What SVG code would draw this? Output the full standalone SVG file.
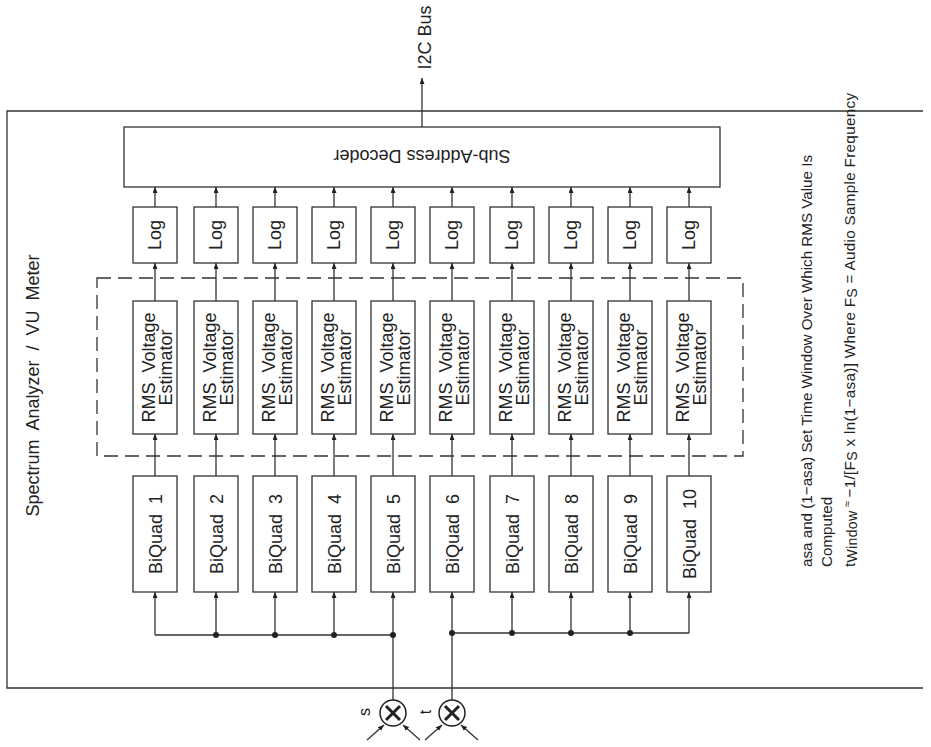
<svg xmlns="http://www.w3.org/2000/svg" width="931" height="747" viewBox="0 0 931 747">
<style>
.ln{fill:none;stroke:#333;stroke-width:1.3}
.bx{fill:#fff;stroke:#333;stroke-width:1.3}
.t{font-family:"Liberation Sans",Arial,sans-serif;fill:#222}
.t18{font-size:18px}
.mid{text-anchor:middle}
.dot{fill:#222}
</style>
<defs>
<marker id="ah" markerUnits="userSpaceOnUse" markerWidth="7" markerHeight="6" refX="6" refY="2.5" orient="auto">
<path d="M0,0 L6,2.5 L0,5 z" fill="#222"/>
</marker>
</defs>
<rect width="931" height="747" fill="#fff"/>
<g id="frame">
<path class="ln" d="M923,111 H7 V688 H923"/>
<g transform="translate(39,385.5) rotate(-90)"><text class="t t18 mid" x="0" y="0" xml:space="preserve">Spectrum  Analyzer  /  VU  Meter</text></g>
</g>
<rect id="rms-group" x="97" y="278" width="646" height="178" fill="none" stroke="#333" stroke-width="1.3" stroke-dasharray="14 7"/>
<g id="decoder">
<rect class="bx" x="124" y="127" width="596" height="60"/>
<g transform="translate(422,150) rotate(180)"><text class="t t18 mid" x="0" y="0">Sub-Address Decoder</text></g>
</g>
<g id="i2c-label" transform="translate(431,37.5) rotate(-90)"><text class="t t18 mid" x="0" y="0">I2C Bus</text></g>
<g id="log1"><rect class="bx" x="133" y="207" width="44" height="56"/><g transform="translate(161,235) rotate(-90)"><text class="t t18 mid">Log</text></g></g>
<g id="log2"><rect class="bx" x="194" y="207" width="44" height="56"/><g transform="translate(222,235) rotate(-90)"><text class="t t18 mid">Log</text></g></g>
<g id="log3"><rect class="bx" x="253" y="207" width="44" height="56"/><g transform="translate(281,235) rotate(-90)"><text class="t t18 mid">Log</text></g></g>
<g id="log4"><rect class="bx" x="312" y="207" width="44" height="56"/><g transform="translate(340,235) rotate(-90)"><text class="t t18 mid">Log</text></g></g>
<g id="log5"><rect class="bx" x="371" y="207" width="44" height="56"/><g transform="translate(399,235) rotate(-90)"><text class="t t18 mid">Log</text></g></g>
<g id="log6"><rect class="bx" x="430" y="207" width="44" height="56"/><g transform="translate(458,235) rotate(-90)"><text class="t t18 mid">Log</text></g></g>
<g id="log7"><rect class="bx" x="490" y="207" width="44" height="56"/><g transform="translate(518,235) rotate(-90)"><text class="t t18 mid">Log</text></g></g>
<g id="log8"><rect class="bx" x="549" y="207" width="44" height="56"/><g transform="translate(577,235) rotate(-90)"><text class="t t18 mid">Log</text></g></g>
<g id="log9"><rect class="bx" x="608" y="207" width="44" height="56"/><g transform="translate(636,235) rotate(-90)"><text class="t t18 mid">Log</text></g></g>
<g id="log10"><rect class="bx" x="667" y="207" width="44" height="56"/><g transform="translate(695,235) rotate(-90)"><text class="t t18 mid">Log</text></g></g>

<g id="rms1"><rect class="bx" x="133" y="301" width="44" height="133"/><g transform="translate(155,367.5) rotate(-90)"><text class="t t18 mid" xml:space="preserve">RMS  Voltage</text></g><g transform="translate(172,367.5) rotate(-90)"><text class="t t18 mid">Estimator</text></g></g>
<g id="rms2"><rect class="bx" x="194" y="301" width="44" height="133"/><g transform="translate(216,367.5) rotate(-90)"><text class="t t18 mid" xml:space="preserve">RMS  Voltage</text></g><g transform="translate(233,367.5) rotate(-90)"><text class="t t18 mid">Estimator</text></g></g>
<g id="rms3"><rect class="bx" x="253" y="301" width="44" height="133"/><g transform="translate(275,367.5) rotate(-90)"><text class="t t18 mid" xml:space="preserve">RMS  Voltage</text></g><g transform="translate(292,367.5) rotate(-90)"><text class="t t18 mid">Estimator</text></g></g>
<g id="rms4"><rect class="bx" x="312" y="301" width="44" height="133"/><g transform="translate(334,367.5) rotate(-90)"><text class="t t18 mid" xml:space="preserve">RMS  Voltage</text></g><g transform="translate(351,367.5) rotate(-90)"><text class="t t18 mid">Estimator</text></g></g>
<g id="rms5"><rect class="bx" x="371" y="301" width="44" height="133"/><g transform="translate(393,367.5) rotate(-90)"><text class="t t18 mid" xml:space="preserve">RMS  Voltage</text></g><g transform="translate(410,367.5) rotate(-90)"><text class="t t18 mid">Estimator</text></g></g>
<g id="rms6"><rect class="bx" x="430" y="301" width="44" height="133"/><g transform="translate(452,367.5) rotate(-90)"><text class="t t18 mid" xml:space="preserve">RMS  Voltage</text></g><g transform="translate(469,367.5) rotate(-90)"><text class="t t18 mid">Estimator</text></g></g>
<g id="rms7"><rect class="bx" x="490" y="301" width="44" height="133"/><g transform="translate(512,367.5) rotate(-90)"><text class="t t18 mid" xml:space="preserve">RMS  Voltage</text></g><g transform="translate(529,367.5) rotate(-90)"><text class="t t18 mid">Estimator</text></g></g>
<g id="rms8"><rect class="bx" x="549" y="301" width="44" height="133"/><g transform="translate(571,367.5) rotate(-90)"><text class="t t18 mid" xml:space="preserve">RMS  Voltage</text></g><g transform="translate(588,367.5) rotate(-90)"><text class="t t18 mid">Estimator</text></g></g>
<g id="rms9"><rect class="bx" x="608" y="301" width="44" height="133"/><g transform="translate(630,367.5) rotate(-90)"><text class="t t18 mid" xml:space="preserve">RMS  Voltage</text></g><g transform="translate(647,367.5) rotate(-90)"><text class="t t18 mid">Estimator</text></g></g>
<g id="rms10"><rect class="bx" x="667" y="301" width="44" height="133"/><g transform="translate(689,367.5) rotate(-90)"><text class="t t18 mid" xml:space="preserve">RMS  Voltage</text></g><g transform="translate(706,367.5) rotate(-90)"><text class="t t18 mid">Estimator</text></g></g>

<g id="bq1"><rect class="bx" x="133" y="476" width="44" height="116"/><g transform="translate(162,534) rotate(-90)"><text class="t t18 mid" xml:space="preserve">BiQuad  1</text></g></g>
<g id="bq2"><rect class="bx" x="194" y="476" width="44" height="116"/><g transform="translate(223,534) rotate(-90)"><text class="t t18 mid" xml:space="preserve">BiQuad  2</text></g></g>
<g id="bq3"><rect class="bx" x="253" y="476" width="44" height="116"/><g transform="translate(282,534) rotate(-90)"><text class="t t18 mid" xml:space="preserve">BiQuad  3</text></g></g>
<g id="bq4"><rect class="bx" x="312" y="476" width="44" height="116"/><g transform="translate(341,534) rotate(-90)"><text class="t t18 mid" xml:space="preserve">BiQuad  4</text></g></g>
<g id="bq5"><rect class="bx" x="371" y="476" width="44" height="116"/><g transform="translate(400,534) rotate(-90)"><text class="t t18 mid" xml:space="preserve">BiQuad  5</text></g></g>
<g id="bq6"><rect class="bx" x="430" y="476" width="44" height="116"/><g transform="translate(459,534) rotate(-90)"><text class="t t18 mid" xml:space="preserve">BiQuad  6</text></g></g>
<g id="bq7"><rect class="bx" x="490" y="476" width="44" height="116"/><g transform="translate(519,534) rotate(-90)"><text class="t t18 mid" xml:space="preserve">BiQuad  7</text></g></g>
<g id="bq8"><rect class="bx" x="549" y="476" width="44" height="116"/><g transform="translate(578,534) rotate(-90)"><text class="t t18 mid" xml:space="preserve">BiQuad  8</text></g></g>
<g id="bq9"><rect class="bx" x="608" y="476" width="44" height="116"/><g transform="translate(637,534) rotate(-90)"><text class="t t18 mid" xml:space="preserve">BiQuad  9</text></g></g>
<g id="bq10"><rect class="bx" x="667" y="476" width="44" height="116"/><g transform="translate(696,534) rotate(-90)"><text class="t t18 mid" xml:space="preserve">BiQuad  10</text></g></g>

<g id="mult-s">
<circle cx="393" cy="713" r="13" fill="#fff" stroke="#222" stroke-width="1.5"/>
<path d="M386,706 L400,720 M400,706 L386,720" stroke="#222" stroke-width="3" fill="none"/>
<g transform="translate(370,712) rotate(-90)"><text class="t mid" font-size="16">s</text></g>
</g>
<g id="mult-t">
<circle cx="452" cy="713" r="13" fill="#fff" stroke="#222" stroke-width="1.5"/>
<path d="M445,706 L459,720 M459,706 L445,720" stroke="#222" stroke-width="3" fill="none"/>
<g transform="translate(431,712) rotate(-90)"><text class="t mid" font-size="16">t</text></g>
</g>

<g id="connectors" class="ln">
<path d="M422,127 V78" marker-end="url(#ah)"/>
<path d="M155,207 V187" marker-end="url(#ah)"/>
<path d="M216,207 V187" marker-end="url(#ah)"/>
<path d="M275,207 V187" marker-end="url(#ah)"/>
<path d="M334,207 V187" marker-end="url(#ah)"/>
<path d="M393,207 V187" marker-end="url(#ah)"/>
<path d="M452,207 V187" marker-end="url(#ah)"/>
<path d="M512,207 V187" marker-end="url(#ah)"/>
<path d="M571,207 V187" marker-end="url(#ah)"/>
<path d="M630,207 V187" marker-end="url(#ah)"/>
<path d="M689,207 V187" marker-end="url(#ah)"/>
<path d="M155,301 V263" marker-end="url(#ah)"/>
<path d="M216,301 V263" marker-end="url(#ah)"/>
<path d="M275,301 V263" marker-end="url(#ah)"/>
<path d="M334,301 V263" marker-end="url(#ah)"/>
<path d="M393,301 V263" marker-end="url(#ah)"/>
<path d="M452,301 V263" marker-end="url(#ah)"/>
<path d="M512,301 V263" marker-end="url(#ah)"/>
<path d="M571,301 V263" marker-end="url(#ah)"/>
<path d="M630,301 V263" marker-end="url(#ah)"/>
<path d="M689,301 V263" marker-end="url(#ah)"/>
<path d="M155,476 V434" marker-end="url(#ah)"/>
<path d="M216,476 V434" marker-end="url(#ah)"/>
<path d="M275,476 V434" marker-end="url(#ah)"/>
<path d="M334,476 V434" marker-end="url(#ah)"/>
<path d="M393,476 V434" marker-end="url(#ah)"/>
<path d="M452,476 V434" marker-end="url(#ah)"/>
<path d="M512,476 V434" marker-end="url(#ah)"/>
<path d="M571,476 V434" marker-end="url(#ah)"/>
<path d="M630,476 V434" marker-end="url(#ah)"/>
<path d="M689,476 V434" marker-end="url(#ah)"/>
<path d="M155,635 V592" marker-end="url(#ah)"/>
<path d="M216,635 V592" marker-end="url(#ah)"/>
<path d="M275,635 V592" marker-end="url(#ah)"/>
<path d="M334,635 V592" marker-end="url(#ah)"/>
<path d="M393,635 V592" marker-end="url(#ah)"/>
<path d="M452,633 V592" marker-end="url(#ah)"/>
<path d="M512,633 V592" marker-end="url(#ah)"/>
<path d="M571,633 V592" marker-end="url(#ah)"/>
<path d="M630,633 V592" marker-end="url(#ah)"/>
<path d="M689,633 V592" marker-end="url(#ah)"/>
<path d="M155,635 H393 M452,633 H689"/>
<path d="M393,635 V700 M452,633 V700"/>
<path d="M367,740 L384,725" marker-end="url(#ah)"/>
<path d="M420,740 L403,725" marker-end="url(#ah)"/>
<path d="M425,740 L442,725" marker-end="url(#ah)"/>
<path d="M478,740 L461,725" marker-end="url(#ah)"/>
</g>
<g id="junctions" class="dot">
<circle cx="216" cy="635" r="3"/><circle cx="275" cy="635" r="3"/><circle cx="334" cy="635" r="3"/><circle cx="393" cy="635" r="3"/>
<circle cx="452" cy="633" r="3"/><circle cx="512" cy="633" r="3"/><circle cx="571" cy="633" r="3"/><circle cx="630" cy="633" r="3"/>
</g>
<g id="notes" class="t" font-size="15.2">
<g transform="translate(812,567) rotate(-90)"><text>asa and (1−asa) Set Time Window Over Which RMS Value Is</text></g>
<g transform="translate(832,567) rotate(-90)"><text>Computed</text></g>
<g transform="translate(855,567) rotate(-90)"><text xml:space="preserve" textLength="474" lengthAdjust="spacing">t<tspan font-size="14" dy="2">Window</tspan><tspan font-size="11" dy="-6"> ≈ </tspan><tspan dy="4">−1/[F</tspan><tspan font-size="14" dy="2">S</tspan><tspan dy="-2"> x ln(1−asa)] Where F</tspan><tspan font-size="14" dy="2">S</tspan><tspan dy="-2"> = Audio Sample Frequency</tspan></text></g>
</g>
</svg>
